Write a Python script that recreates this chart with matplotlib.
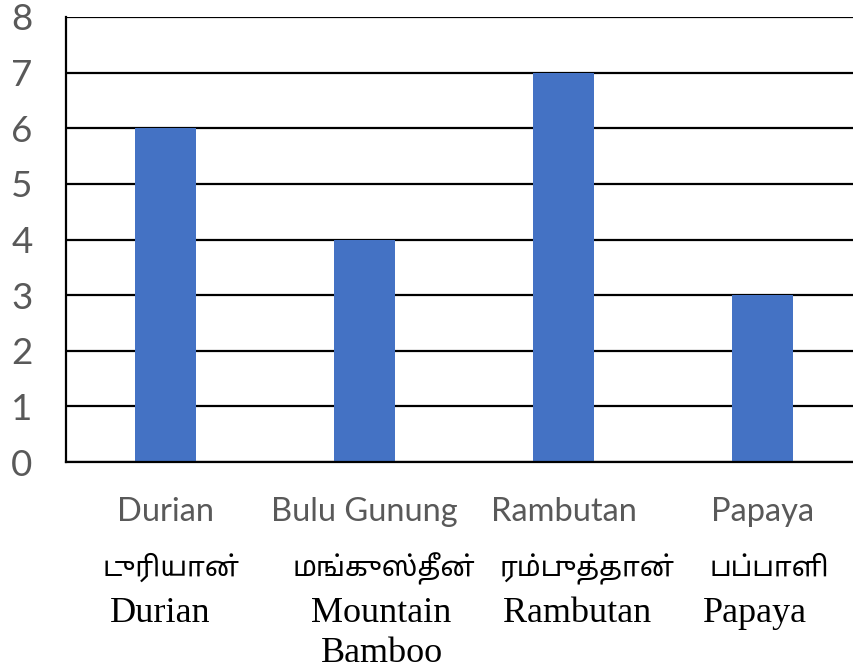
import matplotlib
matplotlib.use("Agg")
import matplotlib.pyplot as plt
import matplotlib.transforms as mtransforms

# data
fruits = ["Durian", "Bulu Gunung", "Rambutan", "Papaya"]
tamil_names = ["டுரியான்", "மங்குஸ்தீன்", "ரம்புத்தான்", "பப்பாளி"]
english_names = ["Durian", "Mountain\nBamboo", "Rambutan", "Papaya"]
counts = [6, 4, 7, 3]
y_ticks = [0, 1, 2, 3, 4, 5, 6, 7, 8]

W, H = 854, 671
fig = plt.figure(figsize=(W / 100, H / 100), dpi=100)
ax = fig.add_axes([66 / W, 1 - 462 / H, 796 / W, 445 / H])

x = list(range(len(fruits)))
ax.bar(x, counts, width=0.31, color="#4472C4", zorder=2)

ax.set_xlim(-0.5, len(fruits) - 0.5)
ax.set_ylim(0, 8)
ax.set_yticks(y_ticks)
ax.set_yticklabels([str(v) for v in y_ticks], fontsize=26.5, color="#595959", family="Lato")
ax.tick_params(axis="y", length=0, pad=24)
ax.set_xticks([])
ax.grid(axis="y", color="black", linewidth=1.6, zorder=0)
ax.set_axisbelow(True)
for s in ["top", "right"]:
    ax.spines[s].set_visible(False)
ax.spines["left"].set_linewidth(1.6)
ax.spines["bottom"].set_linewidth(1.6)

# category labels: three stacked rows below each bar
trans = mtransforms.blended_transform_factory(ax.transData, fig.transFigure)
tamil_dx = [6, 19, 24, 7]
eng_dx = [-5, 17, 14, -8]
for i in x:
    ax.text(i, 1 - 521 / H, fruits[i], transform=trans, ha="center", va="baseline",
            fontsize=23.5, color="#595959", family="Lato")
    t = mtransforms.offset_copy(trans, fig=fig, x=tamil_dx[i], y=0, units="dots")
    ax.text(i, 1 - 576 / H, tamil_names[i], transform=t, ha="center", va="baseline",
            fontsize=20, color="black", family=["Noto Sans Tamil", "DejaVu Sans"])
    t = mtransforms.offset_copy(trans, fig=fig, x=eng_dx[i], y=0, units="dots")
    for k, line in enumerate(english_names[i].split("\n")):
        ax.text(i, 1 - (622 + 40 * k) / H, line, transform=t, ha="center", va="baseline",
                fontsize=26, color="black", family="Liberation Serif")

fig.savefig("out.png", dpi=100)
